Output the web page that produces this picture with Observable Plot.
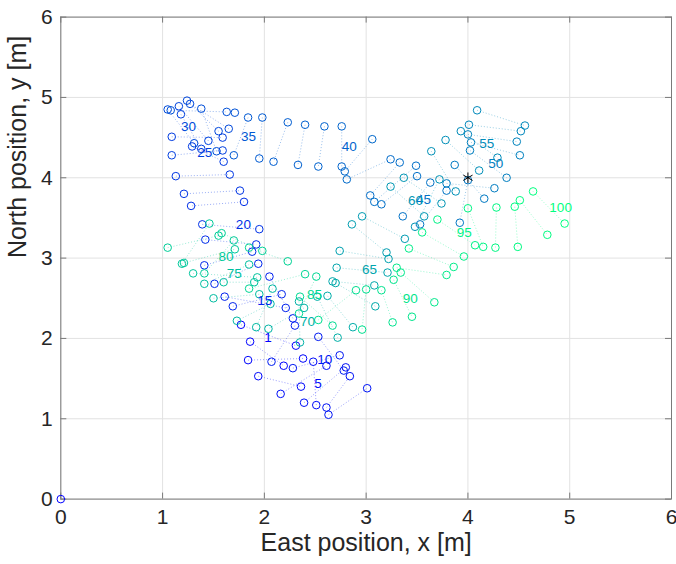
<!DOCTYPE html>
<html><head><meta charset="utf-8">
<script src="https://cdn.jsdelivr.net/npm/d3@7"></script>
<script src="https://cdn.jsdelivr.net/npm/@observablehq/plot@0.6"></script>
<style>body{margin:0;background:#fff}</style>
</head><body><div id="chart"></div>
<script>
// Step index of each measured pair of positions
const stepIndex = [1,2,3,4,5,6,7,8,9,10,11,12,13,14,15,16,17,18,19,20,21,22,23,24,25,26,27,28,29,30,31,32,33,
  35,36,37,38,39,40,41,42,43,44,44,45,46,47,48,49,50,51,52,53,54,55,56,57,58,59,60,61,62,63,
  65,66,67,68,69,70,71,72,73,74,75,76,77,78,79,80,81,82,83,84,85,86,87,88,89,90,91,92,93,94,95,96,97,98,99,100];
// first position of each pair (east, north) [m]
const ax = [1.77,1.86,1.84,1.94,2.51,2.16,2.39,2.61,2.63,2.28,2.53,2.07,2.28,2.21,1.69,1.51,1.41,1.42,1.80,1.39,1.21,1.13,1.60,1.09,1.09,1.38,1.45,1.55,1.65,1.05,1.53,1.08,1.71,
  1.84,1.98,2.23,2.40,2.59,2.76,3.06,3.24,3.33,3.49,3.50,3.63,3.79,4.00,3.87,3.79,4.02,4.03,4.00,4.01,4.09,3.93,3.78,3.64,3.72,3.37,3.24,2.96,2.86,2.74,
  2.71,2.67,2.70,2.62,2.52,2.34,2.39,2.06,2.08,1.95,1.41,1.60,1.30,1.21,1.19,1.70,1.05,1.58,1.85,1.85,2.51,2.35,2.53,3.00,3.15,3.27,3.34,3.30,3.42,3.55,3.70,4.00,4.28,4.46,4.51,4.64];
const ay = [2.17,1.96,1.73,1.53,1.17,1.31,1.20,1.14,1.05,1.63,2.02,1.71,2.25,2.38,2.40,2.68,2.91,3.23,3.70,3.42,3.80,4.02,4.20,4.51,4.28,4.36,4.46,4.58,4.61,4.85,4.33,4.84,4.81,
  4.75,4.75,4.69,4.66,4.64,4.64,4.48,4.23,4.19,4.15,4.02,3.94,3.84,3.97,4.16,3.93,4.34,4.44,4.54,4.66,4.84,4.58,4.47,4.33,3.98,4.00,3.89,3.52,3.42,3.09,
  2.88,2.71,2.69,2.53,2.52,2.46,2.38,2.43,2.62,2.55,2.68,2.70,2.81,2.94,2.93,3.22,3.13,3.31,3.13,2.62,2.77,2.52,2.23,2.61,2.60,2.73,2.82,2.88,3.12,3.32,3.48,3.62,3.63,3.64,3.72,3.83];
// second position of each pair (east, north) [m]
const bx = [2.31,2.19,2.38,2.36,2.48,2.61,2.80,2.84,3.01,2.74,2.78,2.30,2.05,1.61,2.17,1.94,1.88,1.92,1.28,1.95,1.76,1.66,1.29,1.59,1.59,1.18,1.16,1.24,1.27,1.31,1.38,1.63,null,
  1.70,1.95,2.09,2.33,2.53,2.76,2.79,2.81,3.04,3.08,3.15,3.36,3.53,3.92,4.16,4.26,4.38,4.51,4.48,4.52,4.56,4.29,4.11,3.88,3.48,3.74,3.57,3.38,3.20,3.22,
  3.21,3.08,3.09,2.87,2.72,2.35,2.04,1.73,1.92,1.50,1.85,1.90,1.93,1.71,1.46,1.41,1.55,1.98,2.23,2.40,2.34,2.67,2.90,2.96,3.26,3.45,3.67,3.79,3.86,3.96,4.07,4.15,4.27,4.49,4.78,4.95];
const by = [1.91,1.66,1.75,1.40,1.71,1.66,1.64,1.53,1.38,1.79,1.60,2.16,2.77,2.52,2.55,2.93,3.08,3.17,3.65,3.36,3.84,4.04,4.39,4.50,4.34,4.79,4.89,4.96,4.92,4.43,4.86,4.82,null,
  4.28,4.24,4.20,4.16,4.14,4.14,4.08,3.98,3.78,3.70,3.67,3.52,3.42,3.44,3.74,3.87,4.00,4.28,4.45,4.58,4.65,4.25,4.09,3.83,3.39,3.68,3.52,3.24,3.07,2.99,
  2.82,2.66,2.40,2.14,2.01,1.95,2.12,2.22,2.14,2.50,2.92,2.70,2.76,3.11,3.43,2.81,3.28,3.09,2.96,2.80,2.31,2.16,2.60,2.11,2.20,2.27,2.45,2.79,2.89,3.02,3.16,3.14,3.13,3.14,3.29,3.43];

// step number labels
const labelNum = [1,5,10,15,20,25,30,35,40,45,50,55,60,65,70,75,80,85,90,95,100];
const labelX = [2.00,2.49,2.52,1.93,1.72,1.34,1.18,1.77,2.76,3.49,4.20,4.11,3.41,2.96,2.35,1.63,1.55,2.42,3.36,3.89,4.80];
const labelY = [2.01,1.44,1.73,2.47,3.41,4.31,4.63,4.51,4.39,3.73,4.18,4.42,3.71,2.86,2.21,2.81,3.02,2.55,2.50,3.32,3.63];

const originX = [0], originY = [0];
const anchorX = [4], anchorY = [4];
const axisTicks = [0,1,2,3,4,5,6];
const nSteps = 100;

// MATLAB "winter" colormap
function winter(i) {
  const t = (i - 1) / (nSteps - 1);
  return d3.rgb(0, Math.round(255 * t), Math.round(255 * (1 - 0.5 * t))).formatHex();
}

const pairs = stepIndex.map((k, j) => ({k, ax: ax[j], ay: ay[j], bx: bx[j], by: by[j], c: winter(k)}));
const pts = pairs.flatMap(p => [{x: p.ax, y: p.ay, c: p.c}, {x: p.bx, y: p.by, c: p.c}]).filter(p => p.x != null);
const labels = labelNum.map((n, j) => ({n, x: labelX[j], y: labelY[j], c: winter(n)}));
const origin = originX.map((x, j) => ({x, y: originY[j], c: winter(1)}));
const anchor = anchorX.map((x, j) => ({x, y: anchorY[j]}));

const W = 676, H = 564, mL = 60.3, mR = 5, mT = 16.6, mB = 65.4;
const plotW = W - mL - mR, plotH = H - mT - mB;
const font = "'Liberation Sans', Arial, Helvetica, sans-serif";
const axisColor = "#7a7a7a";

const chart = Plot.plot({
  width: W, height: H,
  marginLeft: mL, marginRight: mR, marginTop: mT, marginBottom: mB,
  style: {fontFamily: font, background: "#fff", overflow: "visible"},
  x: {domain: [0, 6]},
  y: {domain: [0, 6]},
  marks: [
    Plot.gridX(axisTicks, {stroke: "#e2e2e2", strokeOpacity: 1}),
    Plot.gridY(axisTicks, {stroke: "#e2e2e2", strokeOpacity: 1}),
    Plot.link(pairs.filter(p => p.bx != null), {x1: "ax", y1: "ay", x2: "bx", y2: "by", stroke: "c", strokeOpacity: 0.4, strokeWidth: 1, strokeDasharray: "1,2"}),
    Plot.dot(pts, {x: "x", y: "y", r: 3.8, stroke: "c", strokeWidth: 1}),
    Plot.text(labels, {x: "x", y: "y", text: d => String(d.n), fill: "c", textAnchor: "start", fontSize: 13.5, fontFamily: font}),
    Plot.frame({stroke: axisColor}),
    Plot.ruleX(axisTicks, {x: d => d, insetTop: plotH - 6, stroke: axisColor}),
    Plot.ruleX(axisTicks, {x: d => d, insetBottom: plotH - 6, stroke: axisColor}),
    Plot.ruleY(axisTicks, {y: d => d, insetRight: plotW - 6, stroke: axisColor}),
    Plot.ruleY(axisTicks, {y: d => d, insetLeft: plotW - 6, stroke: axisColor}),
    Plot.dot(origin, {x: "x", y: "y", r: 3.8, stroke: "c", strokeWidth: 1}),
    Plot.dot(anchor, {x: "x", y: "y", symbol: "asterisk", r: 5, stroke: "#000", strokeWidth: 1}),
    Plot.axisX(axisTicks, {tickSize: 0, tickPadding: 10, fontSize: 21, label: null, tickFormat: "d", color: "#262626"}),
    Plot.axisY(axisTicks, {tickSize: 0, tickPadding: 8, fontSize: 21, label: null, tickFormat: "d", color: "#262626"}),
    Plot.text(["East position, x [m]"], {frameAnchor: "bottom", dy: 52, text: d => d, fontSize: 25, fill: "#262626"}),
    Plot.text(["North position, y [m]"], {frameAnchor: "left", dx: -43, rotate: -90, text: d => d, fontSize: 25, fill: "#262626"})
  ]
});
document.getElementById("chart").appendChild(chart);
</script>
</body></html>
